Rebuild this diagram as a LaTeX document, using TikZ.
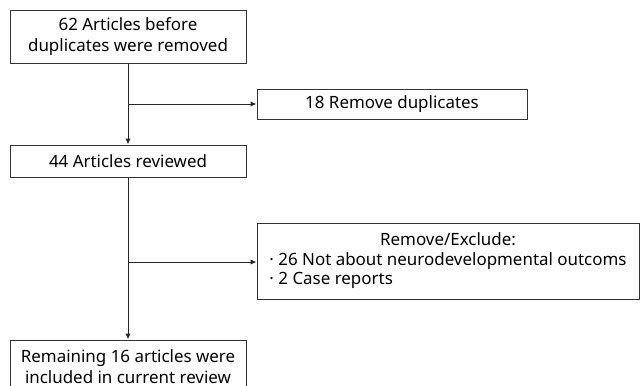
\documentclass[tikz,border=0pt]{standalone}
\usepackage{fontspec}
\setmainfont{Noto Sans}
\usetikzlibrary{arrows.meta}
\begin{document}
\begin{tikzpicture}[x=0.75pt,y=-0.75pt,
  box/.style={draw=black!80, line width=0.75pt, rectangle, inner sep=0pt, align=center, font=\fontsize{12.7}{15.6}\selectfont},
  conn/.style={draw=black!85, line width=0.75pt},
  arr/.style={conn, -{Latex[length=4.5pt,width=4pt]}}]
\useasboundingbox (0,0) rectangle (640,386);
\node[box, minimum width=177pt, minimum height=39.75pt] (b1) at (128,36.5) {62 Articles before\\duplicates were removed};
\node[box, minimum width=202.5pt, minimum height=22.5pt] (dup) at (392,104) {18 Remove duplicates};
\node[box, minimum width=177pt, minimum height=24pt] (b2) at (128,161) {44 Articles reviewed};
\node[box, minimum width=286.5pt, minimum height=57pt] (b3) at (448,261) {\begin{tabular}{@{}l@{}}\multicolumn{1}{@{}c@{}}{Remove/Exclude:}\\[-1.2pt] · 26 Not about neurodevelopmental outcoms\\[-1.2pt] · 2 Case reports\end{tabular}};
\node[box, minimum width=177pt, minimum height=39.75pt] (b4) at (128,366.5) {Remaining 16 articles were\\included in current review};
\coordinate (j1) at (128,104);
\coordinate (j2) at (128,262);
\draw[arr] (b1.south) -- (b2.north);
\draw[arr] (j1) -- (dup.west);
\draw[arr] (b2.south) -- (b4.north);
\draw[arr] (j2) -- (j2 -| b3.west);
\end{tikzpicture}
\end{document}
